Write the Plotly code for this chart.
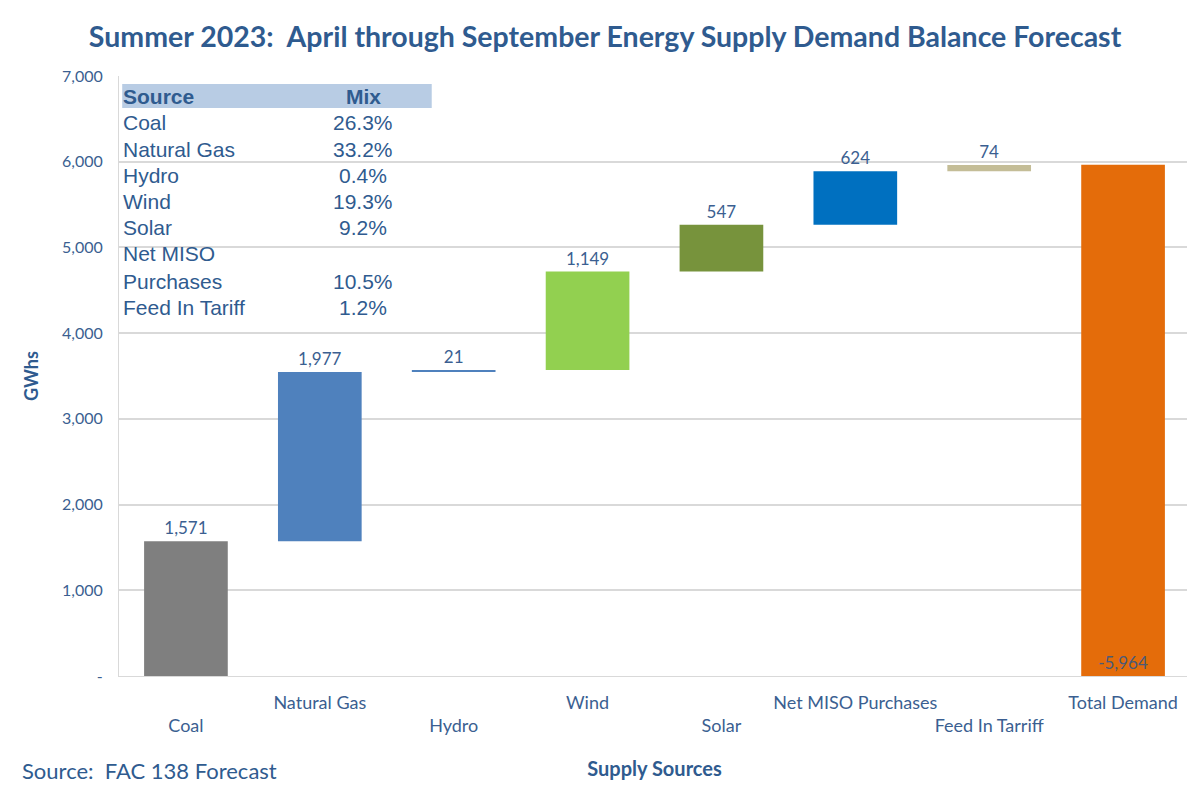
import plotly.graph_objects as go
import numpy as np

# ---- data ----
categories = ["Coal", "Natural Gas", "Hydro", "Wind", "Solar",
              "Net MISO Purchases", "Feed In Tarriff", "Total Demand"]
supply_values = [1571, 1977, 21, 1149, 547, 624, 74]
total_demand = 5964
bar_labels = ["1,571", "1,977", "21", "1,149", "547", "624", "74", "-5,964"]
bar_colors = ["#7f7f7f", "#4f81bd", "#4f81bd", "#92d050", "#77933c",
              "#0070c0", "#c4bd97", "#e46c0a"]
label_row = [1, 0, 1, 0, 1, 0, 1, 0]  # 0 = upper row, 1 = lower row of tick labels

table_sources = ["Coal", "Natural Gas", "Hydro", "Wind", "Solar",
                 "Net MISO", "Purchases", "Feed In Tariff"]
table_mix = ["26.3%", "33.2%", "0.4%", "19.3%", "9.2%", "", "10.5%", "1.2%"]

y_tickvals = [0, 1000, 2000, 3000, 4000, 5000, 6000, 7000]
y_ticktext = ["-", "1,000", "2,000", "3,000", "4,000", "5,000", "6,000", "7,000"]

# ---- derived ----
bases = list(np.concatenate([[0], np.cumsum(supply_values)[:-1]])) + [0]
heights = supply_values + [total_demand]
ticktext = [("<br>" + c) if r == 1 else c for c, r in zip(categories, label_row)]

TXT = "#3b5f91"
CAL = "Lato, 'Open Sans', sans-serif"

fig = go.Figure()
fig.add_trace(go.Bar(
    x=categories, y=heights, base=bases,
    marker=dict(color=bar_colors, line=dict(width=0)),
    width=0.625,
    text=bar_labels,
    textposition=["outside"] * 7 + ["inside"],
    insidetextanchor="start",
    textfont=dict(family=CAL, size=17, color=["#3b5f91"] * 7 + ["#4a5a78"]),
    cliponaxis=False,
    hoverinfo="skip",
))

# table header band
fig.add_shape(type="rect", xref="paper", yref="paper",
              x0=0.003, x1=0.292, y0=(676 - 108) / 600, y1=(676 - 84) / 600,
              fillcolor="#b8cce4", line=dict(width=0), layer="below")

row_y = [96, 122, 149, 175, 201, 228, 254, 281, 307]
TFONT = "Liberation Sans, Arial, sans-serif"
TCOL = "#2f5b8f"
TSIZE = 21
MIXX = (363 - 119) / 1071
fig.add_annotation(xref="paper", yref="paper", x=0.002, y=(676 - row_y[0]) / 600,
                   text="<b>Source</b>", showarrow=False, xanchor="left", yanchor="middle",
                   font=dict(family=TFONT, size=TSIZE, color=TCOL))
fig.add_annotation(xref="paper", yref="paper", x=MIXX, y=(676 - row_y[0]) / 600,
                   text="<b>Mix</b>", showarrow=False, xanchor="center", yanchor="middle",
                   font=dict(family=TFONT, size=TSIZE, color=TCOL))
for i, (s, m) in enumerate(zip(table_sources, table_mix)):
    yy = (676 - row_y[i + 1]) / 600
    fig.add_annotation(xref="paper", yref="paper", x=0.002, y=yy, text=s,
                       showarrow=False, xanchor="left", yanchor="middle",
                       font=dict(family=TFONT, size=TSIZE, color=TCOL))
    if m:
        fig.add_annotation(xref="paper", yref="paper", x=MIXX, y=yy, text=m,
                           showarrow=False, xanchor="center", yanchor="middle",
                           font=dict(family=TFONT, size=TSIZE, color=TCOL))

# source note
fig.add_annotation(xref="paper", yref="paper", x=(20 - 119) / 1071, y=(676 - 771) / 600,
                   text="Source:  FAC 138 Forecast", showarrow=False,
                   xanchor="left", yanchor="middle",
                   font=dict(family=CAL, size=22, color=TCOL))

# page body has an 8px margin, so the figure is sized/offset to compensate
fig.update_layout(
    width=1187, height=778,
    margin=dict(l=111, r=5, t=68, b=110, autoexpand=False),
    paper_bgcolor="white", plot_bgcolor="white",
    showlegend=False,
    title=dict(text="<b>Summer 2023:  April through September Energy Supply Demand Balance Forecast</b>",
               x=0.503, xanchor="center", y=(778 - 29) / 778, yanchor="middle",
               font=dict(family=CAL, size=28.5, color="#2f5b8f")),
    xaxis=dict(
        tickvals=categories, ticktext=ticktext, ticks="", tickangle=0,
        tickfont=dict(family=CAL, size=18, color=TXT),
        ticklabelstandoff=10, automargin=False,
        showline=True, linecolor="#d9d9d9", linewidth=1,
        title=dict(text="<b>Supply Sources</b>", standoff=26,
                   font=dict(family=CAL, size=20, color=TCOL)),
    ),
    yaxis=dict(
        range=[0, 7000], tickvals=y_tickvals, ticktext=y_ticktext,
        tickfont=dict(family=CAL, size=16, color=TXT),
        showgrid=True, gridcolor="#d9d9d9", gridwidth=1.5,
        showline=True, linecolor="#d9d9d9", linewidth=1,
        zeroline=False, ticks="", ticklabelstandoff=12, automargin=False,
        title=dict(text="<b>GWhs</b>", standoff=18,
                   font=dict(family=CAL, size=18, color=TCOL)),
    ),
    bargap=0.375,
)

fig.write_html("out.html")
